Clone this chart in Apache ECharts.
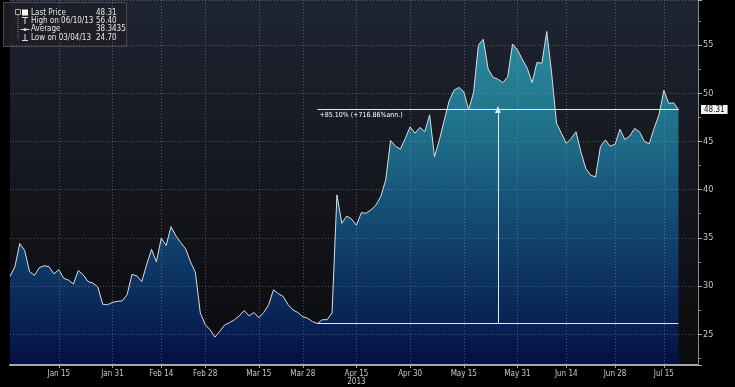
<!DOCTYPE html>
<html><head><meta charset="utf-8">
<script src="https://cdn.jsdelivr.net/npm/echarts@6/dist/echarts.min.js"></script>
<style>html,body{margin:0;padding:0;background:#000;}#c{width:735px;height:387px;}</style>
</head><body><div id="c"></div>
<script>
// Trading days (Dec 31, 2012 .. Jul 18, 2013) plus a few empty days of right padding
const dates = [
 'Dec 31',
 'Jan 2','Jan 3','Jan 4','Jan 7','Jan 8','Jan 9','Jan 10','Jan 11','Jan 14','Jan 15','Jan 16','Jan 17','Jan 18','Jan 22','Jan 23','Jan 24','Jan 25','Jan 28','Jan 29','Jan 30','Jan 31',
 'Feb 1','Feb 4','Feb 5','Feb 6','Feb 7','Feb 8','Feb 11','Feb 12','Feb 13','Feb 14','Feb 15','Feb 19','Feb 20','Feb 21','Feb 22','Feb 25','Feb 26','Feb 27','Feb 28',
 'Mar 1','Mar 4','Mar 5','Mar 6','Mar 7','Mar 8','Mar 11','Mar 12','Mar 13','Mar 14','Mar 15','Mar 18','Mar 19','Mar 20','Mar 21','Mar 22','Mar 25','Mar 26','Mar 27','Mar 28',
 'Apr 1','Apr 2','Apr 3','Apr 4','Apr 5','Apr 8','Apr 9','Apr 10','Apr 11','Apr 12','Apr 15','Apr 16','Apr 17','Apr 18','Apr 19','Apr 22','Apr 23','Apr 24','Apr 25','Apr 26','Apr 29','Apr 30',
 'May 1','May 2','May 3','May 6','May 7','May 8','May 9','May 10','May 13','May 14','May 15','May 16','May 17','May 20','May 21','May 22','May 23','May 24','May 28','May 29','May 30','May 31',
 'Jun 3','Jun 4','Jun 5','Jun 6','Jun 7','Jun 10','Jun 11','Jun 12','Jun 13','Jun 14','Jun 17','Jun 18','Jun 19','Jun 20','Jun 21','Jun 24','Jun 25','Jun 26','Jun 27','Jun 28',
 'Jul 1','Jul 2','Jul 3','Jul 5','Jul 8','Jul 9','Jul 10','Jul 11','Jul 12','Jul 15','Jul 16','Jul 17','Jul 18',
 'Jul 19','Jul 22','Jul 23','Jul 24'
];
const prices = [
 31.0, 32.0, 34.4, 33.7, 31.5, 31.1, 31.9, 32.1, 32.0, 31.25,
 31.7, 30.8, 30.6, 30.2, 31.6, 31.15, 30.45, 30.3, 29.9, 28.1,
 28.05, 28.3, 28.4, 28.45, 29.1, 31.2, 31.05, 30.45, 32.2, 33.8,
 32.5, 34.95, 34.2, 36.15, 35.2, 34.5, 33.85, 32.5, 31.4, 27.2,
 26.0, 25.45, 24.7, 25.3, 25.95, 26.2, 26.5, 26.9, 27.45, 26.9,
 27.25, 26.7, 27.25, 28.05, 29.6, 29.2, 28.9, 28.05, 27.5, 27.25,
 26.8, 26.65, 26.3, 26.1, 26.5, 26.5, 27.2, 39.45, 36.5, 37.25,
 36.95, 36.3, 37.6, 37.55, 37.9, 38.4, 39.3, 41.0, 45.1, 44.5,
 44.2, 45.3, 46.5, 45.85, 46.45, 46.0, 47.75, 43.4, 45.15, 47.2,
 49.2, 50.3, 50.6, 50.15, 48.3, 50.05, 55.0, 55.6, 52.5, 51.65,
 51.45, 51.1, 51.7, 55.1, 54.5, 53.5, 52.6, 51.1, 53.2, 53.1,
 56.4, 52.1, 46.9, 45.85, 44.8, 45.3, 46.0, 43.9, 42.2, 41.5,
 41.3, 44.45, 45.15, 44.5, 44.7, 46.25, 45.2, 45.55, 46.35, 46.0,
 45.0, 44.75, 46.35, 47.75, 50.3, 48.95, 49.0, 48.31
];
const tickLabels = ['Jan 15','Jan 31','Feb 14','Feb 28','Mar 15','Mar 28','Apr 15','Apr 30','May 15','May 31','Jun 14','Jun 28','Jul 15'];
const yearLabels = {'Apr 15':'2013'};
const legendNames = ['Last Price','High on 06/10/13','Average','Low on 03/04/13'];
const legendValues = ['48.31','56.40','38.3435','24.70'];
const lastPrice = 48.31;
const baseValue = 26.10;
const baseDate = 'Apr 3';
const endDate = 'Jul 18';
const midDate = 'May 24';
const annText = '+716.86%ann.';

const fontFam = "'Liberation Sans Narrow','DejaVu Sans Condensed','DejaVu Sans',sans-serif";
const tickSet = new Set(tickLabels);
const isTick = (i) => tickSet.has(dates[i]);
const changeText = '+' + ((lastPrice / baseValue - 1) * 100).toFixed(2) + '% (' + annText + ')';

const chart = echarts.init(document.getElementById('c'), null, {renderer: 'canvas'});

const legendRows = [12.7, 20.9, 29.3, 37.7];
const graphic = [
  {type:'rect', shape:{x:3.5, y:2.5, width:123, height:44}, style:{fill:'rgba(30,32,38,0.92)', stroke:'#48484c', lineWidth:1}},
  {type:'rect', shape:{x:15.5, y:9.5, width:5, height:5}, style:{fill:'none', stroke:'#aaa', lineWidth:1}},
  {type:'line', shape:{x1:18, y1:15, x2:18, y2:38}, style:{stroke:'#888', lineDash:[1,1], lineWidth:1}},
  {type:'rect', shape:{x:22, y:9.5, width:6, height:6}, style:{fill:'#fff'}},
  {type:'line', shape:{x1:22, y1:17.5, x2:28, y2:17.5}, style:{stroke:'#ddd', lineWidth:1}},
  {type:'line', shape:{x1:25, y1:17.5, x2:25, y2:24}, style:{stroke:'#ddd', lineWidth:1}},
  {type:'line', shape:{x1:20.5, y1:29.5, x2:29.5, y2:29.5}, style:{stroke:'#ddd', lineWidth:1}},
  {type:'circle', shape:{cx:25, cy:29.5, r:1.5}, style:{fill:'#ddd'}},
  {type:'line', shape:{x1:25, y1:34, x2:25, y2:40.5}, style:{stroke:'#ddd', lineWidth:1}},
  {type:'line', shape:{x1:22, y1:40.5, x2:28, y2:40.5}, style:{stroke:'#ddd', lineWidth:1}}
];
legendNames.forEach((n, i) => {
  graphic.push({type:'text', x:31, y:legendRows[i], style:{text:n, fill:'#e8e8e8', fontSize:8, fontFamily:fontFam, verticalAlign:'middle'}});
  graphic.push({type:'text', x:96, y:legendRows[i], style:{text:legendValues[i], fill:'#e8e8e8', fontSize:8, fontFamily:fontFam, verticalAlign:'middle'}});
});

const option = {
  backgroundColor: '#000',
  animation: false,
  grid: {
    left: 10, right: 37, top: 0, bottom: 22, show: true, borderWidth: 0,
    backgroundColor: {type:'linear', x:0, y:0, x2:0, y2:1, colorStops:[
      {offset:0, color:'#1f2434'}, {offset:0.35, color:'#181b23'}, {offset:0.7, color:'#111217'}, {offset:1, color:'#0b0b0f'}]}
  },
  xAxis: {
    type: 'category', data: dates, boundaryGap: false, z: 3,
    axisLine: {lineStyle: {color: '#a8a8a8', width: 2}},
    axisTick: {show: true, interval: (i) => isTick(i), length: 3, lineStyle: {color: '#a8a8a8'}},
    axisLabel: {interval: (i) => isTick(i), color: '#c8c8c8', fontSize: 8, fontFamily: fontFam, margin: 5, lineHeight: 8,
      formatter: (v) => yearLabels[v] ? v + '\n' + yearLabels[v] : v},
    splitLine: {show: true, interval: (i) => isTick(i), lineStyle: {color: 'rgba(170,170,170,0.42)', type: [1, 2], width: 1}}
  },
  yAxis: {
    type: 'value', position: 'right', min: 21.8, max: 59.67, minInterval: 5, maxInterval: 5, z: 3,
    axisLine: {show: true, lineStyle: {color: '#8a8a8a', width: 1}},
    axisTick: {show: true, length: 4, lineStyle: {color: '#aaa'}},
    minorTick: {show: true, splitNumber: 2, length: 3, lineStyle: {color: '#888'}},
    axisLabel: {color: '#c8c8c8', fontSize: 9, fontFamily: fontFam, margin: 5, showMinLabel: false, showMaxLabel: false,
      formatter: (v) => (Math.abs(v % 5) < 1e-6 ? String(v) : '')},
    splitLine: {show: true, lineStyle: {color: 'rgba(170,170,170,0.42)', type: [1, 2], width: 1}}
  },
  series: [{
    type: 'line', data: prices, symbol: 'none', z: 2,
    lineStyle: {color: '#d9dee4', width: 1},
    areaStyle: {opacity: 1, color: {type:'linear', x:0, y:0, x2:0, y2:365, global:true, colorStops:[
      {offset:0, color:'#3499aa'}, {offset:0.12, color:'#2a879c'}, {offset:0.3, color:'#22768e'},
      {offset:0.42, color:'#1c6785'}, {offset:0.52, color:'#17577b'}, {offset:0.62, color:'#134870'},
      {offset:0.72, color:'#0f3966'}, {offset:0.82, color:'#0b2b5c'}, {offset:0.92, color:'#071c50'},
      {offset:1, color:'#040f40'}]}},
    markLine: {
      silent: true, animation: false, symbol: 'none',
      lineStyle: {color: '#e2eaf0', width: 1, type: 'solid'},
      label: {show: false},
      emphasis: {disabled: true},
      data: [
        [{coord: [baseDate, lastPrice], label: {show: true, position: 'insideStartBottom', formatter: changeText, color: '#fff', fontSize: 7, fontFamily: fontFam, distance: 2}},
         {coord: [endDate, lastPrice]}],
        [{coord: [baseDate, baseValue]}, {coord: [endDate, baseValue]}],
        [{coord: [midDate, baseValue]}, {coord: [midDate, lastPrice], symbol: 'triangle', symbolSize: [6, 7]}],
        [{coord: [endDate, lastPrice], lineStyle: {color: 'rgba(0,0,0,0)'},
          label: {show: true, position: 'end', distance: 3, formatter: lastPrice.toFixed(2), color: '#111', backgroundColor: '#f2f2f2',
            padding: [1, 3, 0, 3], fontSize: 8, fontFamily: fontFam}},
         {coord: [dates[dates.length - 1], lastPrice]}]
      ]
    }
  }],
  graphic: graphic
};
chart.setOption(option);
</script>
</body></html>
